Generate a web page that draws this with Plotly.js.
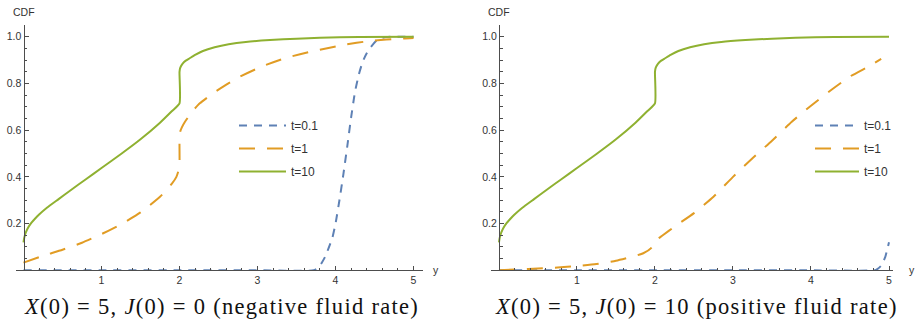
<!DOCTYPE html>
<html>
<head>
<meta charset="utf-8">
<script src="https://cdn.plot.ly/plotly-3.0.1.min.js"></script>
<style>
html,body{margin:0;padding:0;background:#fff;}
#chart{width:915px;height:321px;}
text.annotation-text[data-unformatted*="fluid"]{letter-spacing:1.3px;}
</style>
</head>
<body>
<div id="chart"></div>
<script>
// ---- Data ----
// t = 10 (same curve in both panels)
var greenX = [0, 0.01, 0.03, 0.06, 0.1, 0.15, 0.2, 0.3, 0.45, 0.6, 0.8, 1.0, 1.25, 1.5, 1.75, 1.9, 2.0, 2.0, 2.01, 2.04, 2.08, 2.13, 2.2, 2.3, 2.45, 2.63, 2.85, 3.16, 3.5, 3.8, 4.3, 5.0];
var greenY = [0.12, 0.14, 0.162, 0.183, 0.203, 0.222, 0.239, 0.268, 0.305, 0.342, 0.39, 0.438, 0.498, 0.561, 0.632, 0.681, 0.715, 0.85, 0.868, 0.885, 0.898, 0.908, 0.922, 0.939, 0.955, 0.968, 0.978, 0.986, 0.992, 0.996, 0.999, 1.0];

// Left panel: J(0)=0, t=1
var negOrangeX = [0, 0.25, 0.5, 0.75, 1.0, 1.25, 1.5, 1.75, 1.9, 1.96, 1.99, 2.0, 2.0, 2.01, 2.03, 2.07, 2.16, 2.26, 2.43, 2.6, 2.73, 3.05, 3.37, 3.72, 4.1, 4.44, 4.87, 5.0];
var negOrangeY = [0.033, 0.062, 0.088, 0.118, 0.155, 0.197, 0.248, 0.315, 0.37, 0.40, 0.43, 0.45, 0.57, 0.595, 0.612, 0.636, 0.679, 0.715, 0.758, 0.795, 0.822, 0.872, 0.91, 0.939, 0.965, 0.982, 0.993, 0.995];

// Left panel: J(0)=0, t=0.1
var negBlueX = [0, 1, 2, 3, 3.72, 3.78, 3.82, 3.87, 3.91, 3.96, 4.0, 4.05, 4.1, 4.15, 4.2, 4.25, 4.3, 4.35, 4.4, 4.45, 4.53, 4.6, 4.7, 5.0];
var negBlueY = [0, 0, 0, 0, 0, 0.01, 0.03, 0.06, 0.094, 0.14, 0.2, 0.3, 0.41, 0.53, 0.655, 0.765, 0.84, 0.895, 0.929, 0.955, 0.986, 0.996, 1.0, 1.0];

// Right panel: J(0)=10, t=1
var posOrangeX = [0, 0.25, 0.5, 0.75, 1.0, 1.25, 1.5, 1.75, 1.85, 1.95, 2.0, 2.1, 2.25, 2.5, 2.75, 3.0, 3.25, 3.5, 3.75, 4.0, 4.25, 4.5, 4.75, 4.9];
var posOrangeY = [0, 0.004, 0.008, 0.012, 0.018, 0.027, 0.041, 0.062, 0.073, 0.095, 0.125, 0.15, 0.187, 0.245, 0.315, 0.4, 0.48, 0.555, 0.635, 0.705, 0.77, 0.83, 0.875, 0.905];

// Right panel: J(0)=10, t=0.1
var posBlueX = [0, 1, 2, 3, 4, 4.82, 4.85, 4.9, 4.95, 5.0];
var posBlueY = [0, 0, 0, 0, 0, 0, 0.005, 0.02, 0.055, 0.12];

var seriesNames = ['t=0.1', 't=1', 't=10'];
var xTickVals = [1, 2, 3, 4, 5];
var xTickText = ['1', '2', '3', '4', '5'];
var yTickVals = [0.2, 0.4, 0.6, 0.8, 1.0];
var yTickText = ['0.2', '0.4', '0.6', '0.8', '1.0'];
var panelTitles = ['<i>X</i>(0) = 5, <i>J</i>(0) = 0 (negative fluid rate)',
                   '<i>X</i>(0) = 5, <i>J</i>(0) = 10 (positive fluid rate)'];

// ---- Styling ----
var BLUE = '#5E81B5', ORANGE = '#E19C24', GREEN = '#8FB131';
var AX = '#4d4d4d';
var W = 915, H = 321;

function mk(x, y, name, color, dash, xa, ya, leg, group) {
  return {x: x, y: y, name: name, type: 'scatter', mode: 'lines',
          line: {color: color, width: 2, dash: dash, shape: 'spline', smoothing: 0.5},
          xaxis: xa, yaxis: ya, legend: leg, legendgroup: group, hoverinfo: 'skip'};
}

var traces = [
  mk(negBlueX, negBlueY, seriesNames[0], BLUE, '8px,7px', 'x', 'y', 'legend', 'a1'),
  mk(negOrangeX, negOrangeY, seriesNames[1], ORANGE, '16px,12px', 'x', 'y', 'legend', 'a2'),
  mk(greenX, greenY, seriesNames[2], GREEN, 'solid', 'x', 'y', 'legend', 'a3'),
  mk(posBlueX, posBlueY, seriesNames[0], BLUE, '8px,7px', 'x2', 'y2', 'legend2', 'b1'),
  mk(posOrangeX, posOrangeY, seriesNames[1], ORANGE, '16px,12px', 'x2', 'y2', 'legend2', 'b2'),
  mk(greenX, greenY, seriesNames[2], GREEN, 'solid', 'x2', 'y2', 'legend2', 'b3')
];

var xMinor = [], yMinor = [];
for (var i = 1; i <= 25; i++) xMinor.push(+(i * 0.2).toFixed(2));
for (var j = 1; j <= 21; j++) yMinor.push(+(j * 0.05).toFixed(2));

var tickFont = {family: 'Liberation Sans, Arial, sans-serif', size: 10.5, color: '#333'};

function xAxis(domain, range, anchor) {
  return {domain: domain, range: range, anchor: anchor, showgrid: false, zeroline: false,
          showline: true, linecolor: AX, linewidth: 1, ticks: 'inside', ticklen: 4,
          tickcolor: AX, tickwidth: 1, tickmode: 'array', tickvals: xTickVals, ticktext: xTickText,
          tickfont: tickFont, fixedrange: true,
          minor: {tickmode: 'array', tickvals: xMinor, ticks: 'inside', ticklen: 2.5, tickcolor: AX, tickwidth: 1, showgrid: false}};
}
function yAxis(pos) {
  return {domain: [(H - 270.3) / H, (H - 25.1) / H], range: [0, 1.05], anchor: 'free', position: pos,
          showgrid: false, zeroline: false, showline: true, linecolor: AX, linewidth: 1,
          ticks: 'inside', ticklen: 4, tickcolor: AX, tickwidth: 1, tickmode: 'array',
          tickvals: yTickVals, ticktext: yTickText, tickfont: tickFont, fixedrange: true,
          minor: {tickmode: 'array', tickvals: yMinor, ticks: 'inside', ticklen: 2.5, tickcolor: AX, tickwidth: 1, showgrid: false}};
}

var legFont = {family: 'Liberation Sans, Arial, sans-serif', size: 12, color: '#333'};
var titleFont = {family: 'Liberation Serif, Times New Roman, serif', size: 22.5, color: '#111'};
var layout = {
  width: W, height: H,
  margin: {l: 0, r: 0, t: 0, b: 0},
  paper_bgcolor: '#fff', plot_bgcolor: 'rgba(0,0,0,0)',
  showlegend: true,
  xaxis: xAxis([15.7 / W, 422.9 / W], [-0.1, 5.12], 'y'),
  yaxis: yAxis(23.5 / W),
  xaxis2: xAxis([490.7 / W, 892.9 / W], [-0.106, 5.05], 'y2'),
  yaxis2: yAxis(499 / W),
  legend: {x: 234 / W, xanchor: 'left', y: (H - 111) / H, yanchor: 'top', bgcolor: 'rgba(0,0,0,0)',
           font: legFont, itemwidth: 47, tracegroupgap: 4, borderwidth: 0},
  legend2: {x: 810 / W, xanchor: 'left', y: (H - 111) / H, yanchor: 'top', bgcolor: 'rgba(0,0,0,0)',
           font: legFont, itemwidth: 44, tracegroupgap: 4, borderwidth: 0},
  annotations: [
    {text: 'CDF', x: 23.5 / W, y: (H - 12) / H, xref: 'paper', yref: 'paper', xanchor: 'center', yanchor: 'middle', showarrow: false, font: tickFont},
    {text: 'CDF', x: 499 / W, y: (H - 12) / H, xref: 'paper', yref: 'paper', xanchor: 'center', yanchor: 'middle', showarrow: false, font: tickFont},
    {text: 'y', x: 431 / W, y: (H - 270) / H, xref: 'paper', yref: 'paper', xanchor: 'left', yanchor: 'middle', showarrow: false, font: tickFont},
    {text: 'y', x: 907 / W, y: (H - 270) / H, xref: 'paper', yref: 'paper', xanchor: 'left', yanchor: 'middle', showarrow: false, font: tickFont},
    {text: panelTitles[0], x: 221 / W, y: (H - 306) / H, xref: 'paper', yref: 'paper', xanchor: 'center', yanchor: 'middle', showarrow: false, font: titleFont},
    {text: panelTitles[1], x: 696 / W, y: (H - 306) / H, xref: 'paper', yref: 'paper', xanchor: 'center', yanchor: 'middle', showarrow: false, font: titleFont}
  ]
};

Plotly.newPlot('chart', traces, layout, {staticPlot: true, displayModeBar: false});
</script>
</body>
</html>
